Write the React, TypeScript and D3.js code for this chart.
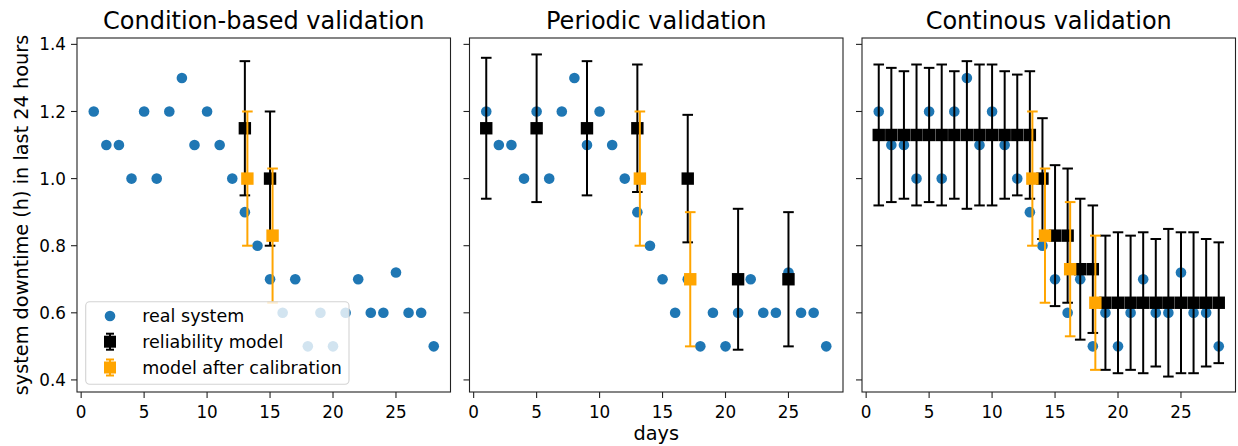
import React from "react";
import { scaleLinear } from "d3";

// observed downtime per day
const days = Array.from({ length: 28 }, (_, i) => i + 1);
const realSystem = [
  1.2, 1.1, 1.1, 1.0, 1.2, 1.0, 1.2, 1.3, 1.1, 1.2, 1.1, 1.0, 0.9, 0.8,
  0.7, 0.6, 0.7, 0.5, 0.6, 0.5, 0.6, 0.7, 0.6, 0.6, 0.72, 0.6, 0.6, 0.5,
];

// condition-based
const condRelDays = [13, 15];
const condRelVals = [1.15, 1.0];
const condRelUp = [1.35, 1.2];
const condRelLow = [0.95, 0.8];
const condCalDays = [13.2, 15.2];
const condCalVals = [1.0, 0.83];
const condCalUp = [1.2, 1.03];
const condCalLow = [0.8, 0.63];

// periodic
const perRelDays = [1, 5, 9, 13, 17, 21, 25];
const perRelVals = [1.15, 1.15, 1.15, 1.15, 1.0, 0.7, 0.7];
const perRelUp = [1.36, 1.37, 1.35, 1.34, 1.19, 0.91, 0.9];
const perRelLow = [0.94, 0.93, 0.95, 0.96, 0.81, 0.49, 0.5];
const perCalDays = [13.2, 17.2];
const perCalVals = [1.0, 0.7];
const perCalUp = [1.2, 0.9];
const perCalLow = [0.8, 0.5];

// continuous
const contRelDays = days;
const contRelVals = [
  1.13, 1.13, 1.13, 1.13, 1.13, 1.13, 1.13, 1.13, 1.13, 1.13, 1.13, 1.13, 1.13,
  1.0, 0.83, 0.83, 0.73, 0.73,
  0.63, 0.63, 0.63, 0.63, 0.63, 0.63, 0.63, 0.63, 0.63, 0.63,
];
const contRelUp = [
  1.34, 1.33, 1.32, 1.34, 1.33, 1.34, 1.32, 1.35, 1.34, 1.34, 1.32, 1.31, 1.32,
  1.18, 1.04, 1.03, 0.94, 0.92,
  0.83, 0.84, 0.83, 0.84, 0.82, 0.85, 0.84, 0.84, 0.82, 0.81,
];
const contRelLow = [
  0.92, 0.93, 0.94, 0.92, 0.93, 0.92, 0.94, 0.91, 0.92, 0.92, 0.94, 0.95, 0.94,
  0.82, 0.62, 0.63, 0.52, 0.54,
  0.43, 0.42, 0.43, 0.42, 0.44, 0.41, 0.42, 0.42, 0.44, 0.45,
];
const contCalDays = [13.2, 14.2, 16.2, 18.2];
const contCalVals = [1.0, 0.83, 0.73, 0.63];
const contCalUp = [1.2, 1.03, 0.93, 0.83];
const contCalLow = [0.8, 0.63, 0.53, 0.43];

const titles = ["Condition-based validation", "Periodic validation", "Continous validation"];
const xTicks = [0, 5, 10, 15, 20, 25];
const yTicks = [0.4, 0.6, 0.8, 1.0, 1.2, 1.4];
const legendLabels = ["real system", "reliability model", "model after calibration"];

const BLUE = "#1f77b4";
const ORANGE = "#ffa500";
const FONT = "DejaVu Sans";

const W = 1238;
const H = 446;
const top = 38;
const bottom = 392;
const panelW = 373.5;
const lefts = [77, 469.5, 862];

const panels = [
  {
    rel: [condRelDays, condRelVals, condRelUp, condRelLow],
    cal: [condCalDays, condCalVals, condCalUp, condCalLow],
  },
  {
    rel: [perRelDays, perRelVals, perRelUp, perRelLow],
    cal: [perCalDays, perCalVals, perCalUp, perCalLow],
  },
  {
    rel: [contRelDays, contRelVals, contRelUp, contRelLow],
    cal: [contCalDays, contCalVals, contCalUp, contCalLow],
  },
];

const y = scaleLinear().domain([0.364, 1.419]).range([bottom, top]);

function ErrorBars({ data, x, color }) {
  const [xs, vals, ups, lows] = data;
  const cap = 5.3;
  return (
    <g>
      {xs.map((d, i) => (
        <g key={"b" + i} stroke={color} strokeWidth={2}>
          <line x1={x(d)} x2={x(d)} y1={y(ups[i])} y2={y(lows[i])} />
          <line x1={x(d) - cap} x2={x(d) + cap} y1={y(ups[i])} y2={y(ups[i])} />
          <line x1={x(d) - cap} x2={x(d) + cap} y1={y(lows[i])} y2={y(lows[i])} />
        </g>
      ))}
      {xs.map((d, i) => (
        <rect key={"m" + i} x={x(d) - 6.2} y={y(vals[i]) - 6.2} width={12.4} height={12.4} fill={color} />
      ))}
    </g>
  );
}

function Panel({ idx }) {
  const left = lefts[idx];
  const x = scaleLinear().domain([-0.33, 29.33]).range([left, left + panelW]);
  const p = panels[idx];
  return (
    <g>
      <text x={left + panelW / 2} y={28.5} textAnchor="middle" fontSize={24} fill="#000">
        {titles[idx]}
      </text>
      {days.map((d, i) => (
        <circle key={i} cx={x(d)} cy={y(realSystem[i])} r={5.3} fill={BLUE} />
      ))}
      <ErrorBars data={p.rel} x={x} color="#000" />
      <ErrorBars data={p.cal} x={x} color={ORANGE} />
      {xTicks.map((t) => (
        <g key={t}>
          <line x1={x(t)} x2={x(t)} y1={bottom} y2={bottom + 6} stroke="#222" strokeWidth={1.1} />
          <text x={x(t)} y={418} textAnchor="middle" fontSize={16.8}>
            {t}
          </text>
        </g>
      ))}
      {yTicks.map((t) => (
        <g key={t}>
          <line x1={left - 6} x2={left} y1={y(t)} y2={y(t)} stroke="#222" strokeWidth={1.1} />
          {idx === 0 && (
            <text x={left - 11} y={y(t)} dy="0.36em" textAnchor="end" fontSize={16.8}>
              {t.toFixed(1)}
            </text>
          )}
        </g>
      ))}
      <rect x={left} y={top} width={panelW} height={bottom - top} fill="none" stroke="#222" strokeWidth={1.1} />
    </g>
  );
}

function Legend() {
  const bx = 85.7;
  const by = 301.7;
  const rows = [316, 341.7, 367.5];
  return (
    <g>
      <rect x={bx} y={by} width={263.3} height={82.5} rx={4} fill="#fff" fillOpacity={0.8} stroke="#d3d3d3" strokeWidth={1.1} />
      <circle cx={110} cy={rows[0]} r={5.3} fill={BLUE} />
      {[["#000", rows[1]], [ORANGE, rows[2]]].map(([c, ry], i) => (
        <g key={i} stroke={c} strokeWidth={2}>
          <line x1={110} x2={110} y1={ry - 8} y2={ry + 8} />
          <line x1={106} x2={114} y1={ry - 8} y2={ry - 8} />
          <line x1={106} x2={114} y1={ry + 8} y2={ry + 8} />
          <rect x={104} y={ry - 6} width={12} height={12} fill={c} stroke="none" />
        </g>
      ))}
      {legendLabels.map((l, i) => (
        <text key={l} x={142.3} y={rows[i]} dy="0.36em" fontSize={17.5}>
          {l}
        </text>
      ))}
    </g>
  );
}

export default function App() {
  return (
    <svg width={W} height={H} style={{ position: "absolute", left: 0, top: 0 }} fontFamily={FONT}>
      <rect width={W} height={H} fill="#fff" />
      {[0, 1, 2].map((i) => (
        <Panel key={i} idx={i} />
      ))}
      <Legend />
      <text transform={`translate(27.5, ${(top + bottom) / 2}) rotate(-90)`} textAnchor="middle" fontSize={19.3}>
        system downtime (h) in last 24 hours
      </text>
      <text x={lefts[1] + panelW / 2} y={440} textAnchor="middle" fontSize={19.3}>
        days
      </text>
    </svg>
  );
}
